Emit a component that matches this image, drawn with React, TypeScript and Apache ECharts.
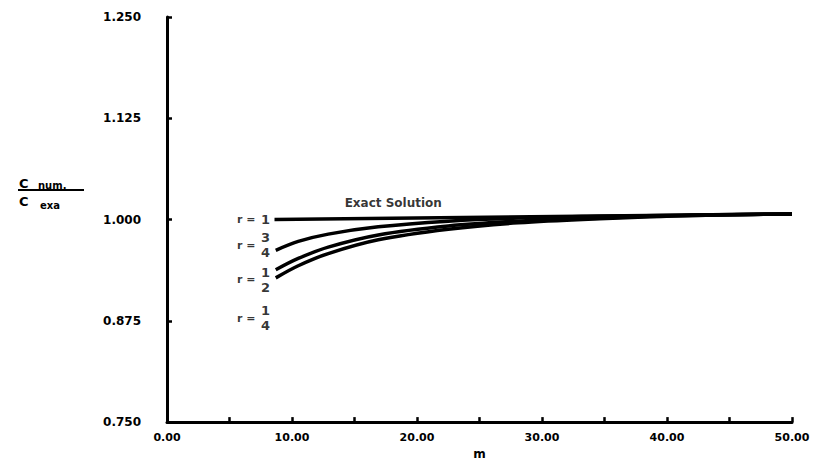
import React, { useEffect, useRef } from "react";
import * as echarts from "echarts";

// x values (m) and series values
const mExact = [8.6, 50];
const exactVals = [1.0, 1.007];
const mCurve = [8.7, 10.5, 12.9, 16.9, 22.5, 28.1, 34.6, 42, 50];
const r34Vals = [0.962, 0.973, 0.982, 0.991, 0.998, 1.002, 1.004, 1.0055, 1.007];
const r12Vals = [0.938, 0.952, 0.966, 0.981, 0.992, 0.998, 1.002, 1.005, 1.007];
const r14Vals = [0.928, 0.943, 0.958, 0.975, 0.988, 0.996, 1.001, 1.005, 1.007];

// annotation labels
const rFractions = ["1", "3\n4", "1\n2", "1\n4"];
const rLabelVals = [1.0, 0.968, 0.926, 0.878];
const rEqM = 7.07;
const rFracM = 7.88;
const exactLabel = "Exact Solution";
const exactLabelPos = [18.1, 1.021];

const yTicks = { min: 0.75, max: 1.25, interval: 0.125 };
const xTicks = { min: 0, max: 50, interval: 5 };

const FONT = "DejaVu Sans";

export default function App() {
  const ref = useRef<HTMLDivElement>(null);
  useEffect(() => {
    const chart = echarts.init(ref.current!, null, { renderer: "svg" });
    const lineStyle = { color: "#000", width: 3.5 };
    const mkLine = (name: string, xs: number[], ys: number[]) => ({
      name,
      type: "line",
      data: xs.map((x, i) => [x, ys[i]]),
      showSymbol: false,
      symbol: "none",
      smooth: 0.35,
      lineStyle,
      z: 3,
    });
    const txt = { color: "#000", fontFamily: FONT, fontWeight: "bold" as const };
    chart.setOption({
      animation: false,
      backgroundColor: "#fff",
      grid: { left: 167, right: 31, top: 17, bottom: 38, containLabel: false },
      xAxis: {
        type: "value",
        min: xTicks.min,
        max: xTicks.max,
        interval: xTicks.interval,
        name: "m",
        nameLocation: "middle",
        nameGap: 24,
        nameTextStyle: { ...txt, fontSize: 12 },
        axisLine: { lineStyle: { color: "#000", width: 3 } },
        axisTick: { inside: true, length: 5, lineStyle: { color: "#000", width: 2.5 } },
        axisLabel: {
          ...txt,
          fontSize: 11,
          margin: 10,
          formatter: (v: number) => (v % 10 === 0 ? v.toFixed(2) : ""),
        },
        splitLine: { show: false },
      },
      yAxis: {
        type: "value",
        min: yTicks.min,
        max: yTicks.max,
        interval: yTicks.interval,
        axisLine: { show: true, lineStyle: { color: "#000", width: 3 } },
        axisTick: { show: true, inside: true, length: 5, lineStyle: { color: "#000", width: 2.5 } },
        axisLabel: {
          ...txt,
          fontSize: 12,
          margin: 26,
          formatter: (v: number) => v.toFixed(3),
        },
        splitLine: { show: false },
      },
      graphic: [
        { type: "text", left: 19, top: 177, style: { text: "C", font: `bold 13px "${FONT}"`, fill: "#000" } },
        { type: "text", left: 38, top: 180, style: { text: "num.", font: `bold 10px "${FONT}"`, fill: "#000" } },
        { type: "line", shape: { x1: 18, y1: 190, x2: 84, y2: 190 }, style: { stroke: "#000", lineWidth: 2 } },
        { type: "text", left: 19, top: 195, style: { text: "C", font: `bold 13px "${FONT}"`, fill: "#000" } },
        { type: "text", left: 40, top: 200, style: { text: "exa", font: `bold 10px "${FONT}"`, fill: "#000" } },
      ],
      series: [
        mkLine("r = 1 (Exact Solution)", mExact, exactVals),
        mkLine("r = 3/4", mCurve, r34Vals),
        mkLine("r = 1/2", mCurve, r12Vals),
        mkLine("r = 1/4", mCurve, r14Vals),
        {
          name: "r-eq",
          type: "scatter",
          symbolSize: 0,
          silent: true,
          data: rLabelVals.map((v) => [rEqM, v]),
          label: {
            show: true,
            position: "left",
            distance: 0,
            formatter: "r =",
            ...txt,
            fontSize: 11,
          },
        },
        {
          name: "r-frac",
          type: "scatter",
          symbolSize: 0,
          silent: true,
          data: rLabelVals.map((v) => [rFracM, v]),
          label: {
            show: true,
            position: "inside",
            formatter: (p: any) => rFractions[p.dataIndex],
            ...txt,
            fontSize: 13,
            lineHeight: 15,
          },
        },
        {
          name: "exact-label",
          type: "scatter",
          symbolSize: 0,
          silent: true,
          data: [exactLabelPos],
          label: {
            show: true,
            position: "inside",
            formatter: exactLabel,
            ...txt,
            fontSize: 12,
          },
        },
      ],
    });
    return () => chart.dispose();
  }, []);
  return (
    <div
      ref={ref}
      style={{ position: "absolute", left: 0, top: 0, width: 823, height: 465 }}
    />
  );
}
